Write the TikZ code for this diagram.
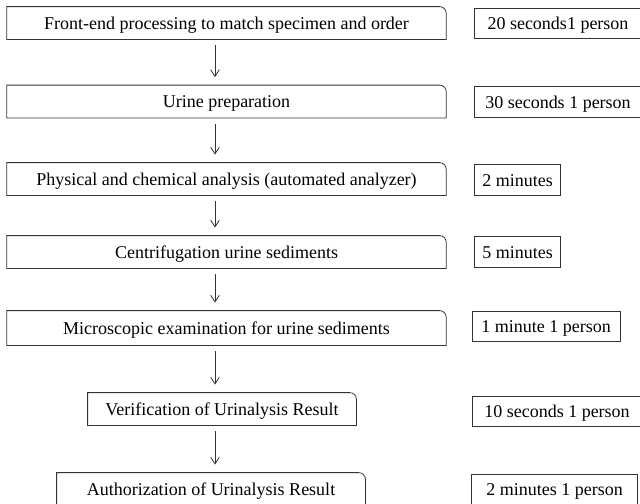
\documentclass[tikz,border=0pt]{standalone}
\usepackage{fontspec}
\setmainfont{Liberation Serif}
\usetikzlibrary{arrows.meta, positioning}

\begin{document}
\begin{tikzpicture}[x=0.75pt,y=-0.75pt,line width=0.6pt]

	\tikzset{
		stepbox/.style={
				draw=none, inner sep=0pt, minimum height=24pt, text height=9pt, text depth=0pt, font=\fontsize{13.5}{16}\selectfont
			},
		timebox/.style={
				draw=black!80, inner sep=0pt, minimum height=23pt, text height=9pt, text depth=0pt, font=\fontsize{13.5}{16}\selectfont
			},
		flow/.style={
				draw=black!80, -{Straight Barb[length=5pt,width=6.5pt]}, shorten <=4.5pt, shorten >=6pt
			},
	}
	\useasboundingbox (0,0) rectangle (640,504);

	\node[stepbox, minimum width=329pt](s1) at (226.5,23){Front-end processing to match specimen and order};
	\node[stepbox, minimum width=329pt](s2) at (226.5,101.5){Urine preparation};
	\node[stepbox, minimum width=329pt](s3) at (226.5,179){Physical and chemical analysis (automated analyzer)};
	\node[stepbox, minimum width=329pt](s4) at (226.5,252){Centrifugation urine sediments};
	\node[stepbox, minimum width=329pt, minimum height=25.5pt](s5) at (226.5,328){Microscopic examination for urine sediments};
	\node[stepbox, minimum width=201pt](s6) at (222,409){Verification of Urinalysis Result};
	\node[stepbox, minimum width=231pt](s7) at (211,489){Authorization of Urinalysis Result};

	\foreach \n in {s1,s2,s3,s4,s5,s6,s7}
		\draw[black!80] (\n.south west) -- (\n.north west) -- ([xshift=-5pt]\n.north east)
			arc[start angle=90, end angle=0, radius=5pt] -- (\n.south east) -- cycle;

	\node[timebox, minimum width=126pt](t1) at (558,23.5){20 seconds1 person};
	\node[timebox, minimum width=126pt](t2) at (558,102){30 seconds 1 person};
	\node[timebox, minimum width=65pt](t3) at (517.5,180){2 minutes};
	\node[timebox, minimum width=65pt](t4) at (517.5,252){5 minutes};
	\node[timebox, minimum width=111pt](t5) at (546,326.5){1 minute 1 person};
	\node[timebox, minimum width=127.5pt](t6) at (557,411.5){10 seconds 1 person};
	\node[timebox, minimum width=125pt](t7) at (554.5,489.5){2 minutes 1 person};

	\coordinate (ax) at (215,0);
	\draw[flow] (s1.south -| ax) -- (s2.north -| ax);
	\draw[flow] (s2.south -| ax) -- (s3.north -| ax);
	\draw[flow] (s3.south -| ax) -- (s4.north -| ax);
	\draw[flow] (s4.south -| ax) -- (s5.north -| ax);
	\draw[flow] (s5.south -| ax) -- (s6.north -| ax);
	\draw[flow] (s6.south -| ax) -- (s7.north -| ax);

\end{tikzpicture}
\end{document}
